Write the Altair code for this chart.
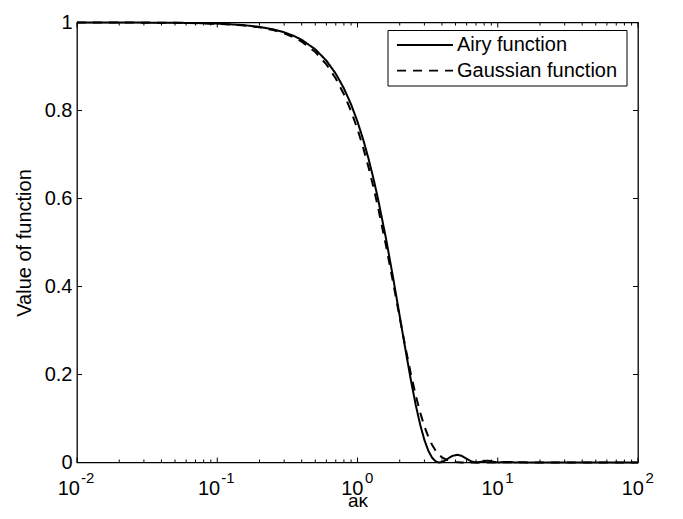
import altair as alt
import pandas as pd

# ---- data ----
x_airy = [0.01, 0.02, 0.03, 0.05, 0.07, 0.1, 0.15, 0.2, 0.25, 0.3, 0.35, 0.4, 0.5, 0.6, 0.7,
          0.8, 0.9, 1.0, 1.1, 1.2, 1.3, 1.4, 1.6, 1.8, 2.0, 2.2, 2.4, 2.6, 2.8, 3.0,
          3.2, 3.4, 3.6, 3.7, 3.83, 4.0, 4.2, 4.5, 4.8, 5.14, 5.5, 6.0, 6.5, 7.02, 7.5,
          8.0, 8.5, 9.0, 9.5, 10.17, 11.0, 12.0, 13.32, 14.0, 15.0, 16.47, 20.0, 30.0, 50.0, 100.0]
y_airy = [1.0, 0.9999, 0.9998, 0.9994, 0.9988, 0.9975, 0.9944, 0.9900, 0.9845, 0.9777,
          0.9698, 0.9607, 0.9391, 0.9133, 0.8836, 0.8503, 0.8138, 0.7746, 0.7331, 0.6897,
          0.6450, 0.5994, 0.5075, 0.4175, 0.3326, 0.2555, 0.1879, 0.1312, 0.0856, 0.0511,
          0.0267, 0.0111, 0.0028, 0.0009, 0.0, 0.0011, 0.0044, 0.0106, 0.0155, 0.0175,
          0.0154, 0.0085, 0.0022, 0.0, 0.0013, 0.0034, 0.0041, 0.0030, 0.0012, 0.0,
          0.0010, 0.0014, 0.0, 0.0004, 0.0008, 0.0, 0.0, 0.0, 0.0, 0.0]

x_gauss = [0.01, 0.02, 0.05, 0.1, 0.15, 0.2, 0.25, 0.3, 0.35, 0.4, 0.5, 0.6, 0.7, 0.8, 0.9,
           1.0, 1.1, 1.2, 1.3, 1.4, 1.6, 1.8, 2.0, 2.2, 2.4, 2.6, 2.8, 3.0, 3.2, 3.4,
           3.6, 3.8, 4.0, 4.5, 5.0, 5.5, 6.0, 7.0, 10.0, 100.0]
y_gauss = [1.0, 0.9999, 0.9993, 0.9972, 0.9938, 0.9890, 0.9828, 0.9753, 0.9665, 0.9565,
           0.9329, 0.9048, 0.8727, 0.8371, 0.7985, 0.7575, 0.7145, 0.6703, 0.6254, 0.5802,
           0.4911, 0.4066, 0.3292, 0.2607, 0.2019, 0.1529, 0.1133, 0.0821, 0.0582, 0.0403,
           0.0273, 0.0181, 0.0117, 0.0036, 0.0010, 0.0002, 0.0, 0.0, 0.0, 0.0]

series_names = ["Airy function", "Gaussian function"]

x_major = [0.01, 0.1, 1, 10, 100]
x_exponents = ["-2", "-1", "0", "1", "2"]
x_minor = [0.02, 0.03, 0.04, 0.05, 0.06, 0.07, 0.08, 0.09,
           0.2, 0.3, 0.4, 0.5, 0.6, 0.7, 0.8, 0.9,
           2, 3, 4, 5, 6, 7, 8, 9,
           20, 30, 40, 50, 60, 70, 80, 90]
y_ticks = [0, 0.2, 0.4, 0.6, 0.8, 1.0]

# ---- build ----
W, H = 561, 440
FONT = "Liberation Sans"
FS = 20

df = pd.concat([
    pd.DataFrame({"x": x_airy, "y": y_airy, "series": series_names[0]}),
    pd.DataFrame({"x": x_gauss, "y": y_gauss, "series": series_names[1]}),
])

xscale = alt.Scale(type="log", domain=[0.01, 100], nice=False)
yscale = alt.Scale(domain=[0, 1], nice=False, zero=False)

xaxis = alt.Axis(values=x_major, labels=False, ticks=False, domain=False, grid=False,
                 title="aκ", titleFont=FONT, titleFontSize=19, titleFontWeight="normal",
                 titleColor="black", titleY=43.5, titleBaseline="alphabetic")
yaxis = alt.Axis(values=y_ticks, format="~g", ticks=False, domain=False, grid=False,
                 labelFont=FONT, labelFontSize=FS, labelColor="black", labelPadding=5,
                 title="Value of function", titleFont=FONT, titleFontSize=FS,
                 titleFontWeight="normal", titleColor="black",
                 titleAngle=270, titleX=-47, titleY=H / 2,
                 titleAlign="center", titleBaseline="alphabetic")

X = lambda: alt.X("x:Q", scale=xscale, axis=xaxis, title="aκ")
Y = lambda: alt.Y("y:Q", scale=yscale, axis=yaxis, title="Value of function")

lines = alt.Chart(df).mark_line(color="black", strokeWidth=2).encode(
    x=X(), y=Y(),
    strokeDash=alt.StrokeDash("series:N",
                              scale=alt.Scale(domain=series_names, range=[[1, 0], [9, 7]]),
                              legend=None),
    detail="series:N",
)

major_df = pd.DataFrame({"x": x_major, "e": x_exponents})
minor_df = pd.DataFrame({"x": x_minor})
yt_df = pd.DataFrame({"y": y_ticks})

def xrule(data, y0, y1):
    return alt.Chart(data).mark_rule(color="black", strokeWidth=1).encode(
        x=X(), y=alt.value(y0), y2=alt.value(y1))

def yrule(x0, x1):
    return alt.Chart(yt_df).mark_rule(color="black", strokeWidth=1).encode(
        y=Y(), x=alt.value(x0), x2=alt.value(x1))

ticks = [
    xrule(major_df, H, H - 5), xrule(major_df, 0, 5),
    xrule(minor_df, H, H - 3), xrule(minor_df, 0, 3),
    yrule(0, 5), yrule(W, W - 5),
]

# x tick labels: "10" with a raised exponent
neg = major_df[major_df["e"].str.startswith("-")]
pos = major_df[~major_df["e"].str.startswith("-")]

def base_text(data, dx):
    return alt.Chart(data).mark_text(font=FONT, fontSize=FS, color="black", align="right",
                                     baseline="alphabetic", dx=dx).encode(
        x=X(), y=alt.value(H + 32.5), text=alt.value("10"))

def exp_text(data, dx):
    return alt.Chart(data).mark_text(font=FONT, fontSize=15, color="black", align="left",
                                     baseline="alphabetic", dx=dx).encode(
        x=X(), y=alt.value(H + 20.5), text="e:N")

labels = [base_text(neg, 3), exp_text(neg, 4), base_text(pos, 6), exp_text(pos, 7.5)]

# legend box
leg_df = pd.DataFrame({"series": series_names, "dash": ["solid", "dashed"]})
box = alt.Chart(pd.DataFrame({"k": [0]})).mark_rect(fill="white", stroke="black", strokeWidth=1).encode(
    x=alt.value(311), x2=alt.value(550), y=alt.value(8), y2=alt.value(63.5))
leg_solid = alt.Chart(leg_df[leg_df["dash"] == "solid"]).mark_rule(color="black", strokeWidth=1.8).encode(
    x=alt.value(320), x2=alt.value(376), y=alt.value(22.5))
leg_dash = alt.Chart(leg_df[leg_df["dash"] == "dashed"]).mark_rule(color="black", strokeWidth=1.8,
                                                                   strokeDash=[9, 7]).encode(
    x=alt.value(320), x2=alt.value(376), y=alt.value(48.2))
leg_t1 = alt.Chart(leg_df[leg_df["dash"] == "solid"]).mark_text(
    font=FONT, fontSize=FS, color="black", align="left", baseline="middle").encode(
    x=alt.value(380), y=alt.value(22.5), text="series:N")
leg_t2 = alt.Chart(leg_df[leg_df["dash"] == "dashed"]).mark_text(
    font=FONT, fontSize=FS, color="black", align="left", baseline="middle").encode(
    x=alt.value(380), y=alt.value(48.2), text="series:N")

chart = alt.layer(lines, *ticks, *labels, box, leg_solid, leg_dash, leg_t1, leg_t2).properties(
    width=W, height=H,
    autosize=alt.AutoSizeParams(type="none"),
    padding={"left": 69, "top": 14.5, "right": 30, "bottom": 48},
    background="white",
).configure_view(stroke="black", strokeWidth=1.3)

chart.save("out.html", embed_options={"renderer": "svg", "actions": False})
